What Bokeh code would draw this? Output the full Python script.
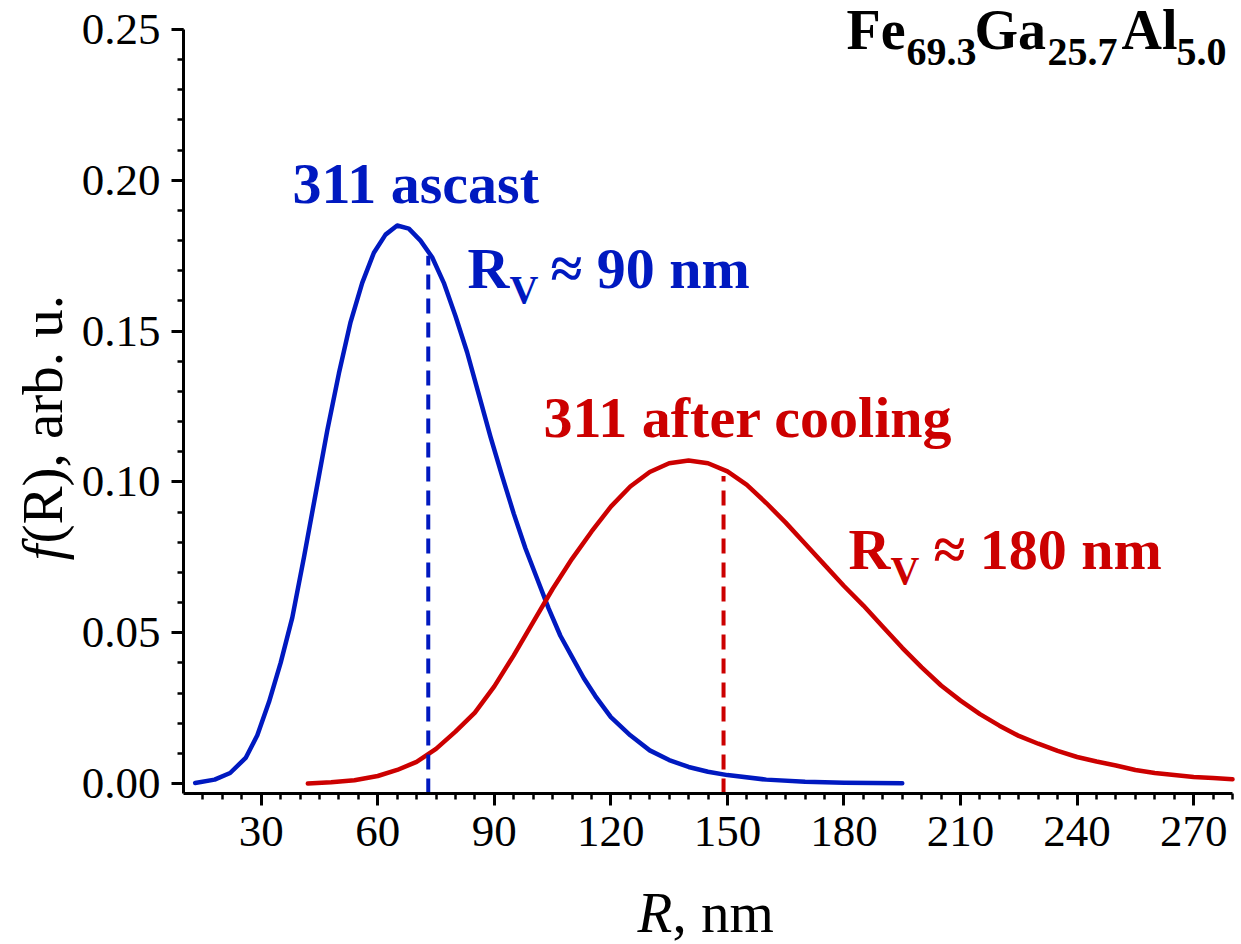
import math
from bokeh.plotting import figure
from bokeh.models import Label, FixedTicker, Range1d, PrintfTickFormatter, LinearAxis
from bokeh.embed import file_html
from bokeh.resources import INLINE

# ---------------- data ----------------
blue_r = [13, 18, 22, 26, 29, 32, 35, 38, 41, 44, 47, 50, 53, 56, 59, 62, 65, 68, 71, 74,
          77, 80, 83, 86, 89, 92, 95, 98, 101, 104, 107, 110, 113, 116, 120, 125, 130, 135,
          140, 145, 150, 160, 170, 180, 195]
blue_f = [0.0002, 0.0013, 0.0035, 0.0085, 0.016, 0.027, 0.040, 0.055, 0.075, 0.096,
          0.117, 0.136, 0.153, 0.166, 0.176, 0.182, 0.185, 0.184, 0.180, 0.1745,
          0.166, 0.155, 0.143, 0.129, 0.115, 0.102, 0.0895, 0.078, 0.068, 0.058,
          0.049, 0.042, 0.035, 0.029, 0.022, 0.016, 0.011, 0.0078, 0.0055, 0.0039,
          0.0028, 0.0013, 0.0006, 0.0003, 0.0001]

red_r = [42, 48, 54, 60, 65, 70, 75, 80, 85, 90, 95, 100, 105, 110, 115, 120, 125, 130,
         135, 140, 145, 150, 155, 160, 165, 170, 175, 180, 185, 190, 195, 200, 205, 210,
         215, 220, 225, 230, 235, 240, 245, 250, 255, 260, 265, 270, 275, 280]
red_f = [0.0, 0.0004, 0.0011, 0.0025, 0.0045, 0.0072, 0.0115, 0.0172, 0.0235, 0.0322,
         0.0425, 0.0535, 0.0645, 0.0745, 0.0835, 0.0918, 0.0985, 0.1033, 0.1062, 0.1071,
         0.1062, 0.1035, 0.099, 0.093, 0.0865, 0.0795, 0.0725, 0.0655, 0.059, 0.052,
         0.045, 0.0385, 0.0325, 0.0275, 0.023, 0.0192, 0.0158, 0.0132, 0.0108, 0.0088,
         0.0073, 0.0060, 0.0045, 0.0035, 0.0028, 0.0022, 0.0018, 0.0014]

# volume-weighted radius markers (dashed lines)
rv_blue_x = 73
rv_blue_top = 0.175
rv_red_x = 149
rv_red_top = 0.102

x_ticks = [30, 60, 90, 120, 150, 180, 210, 240, 270]
x_tick_labels = ["30", "60", "90", "120", "150", "180", "210", "240", "270"]
y_ticks = [0.0, 0.05, 0.10, 0.15, 0.20, 0.25]
y_tick_labels = ["0.00", "0.05", "0.10", "0.15", "0.20", "0.25"]

BLUE = "#0019C0"
RED = "#CC0000"
FONT = "Liberation Serif"

# axis extents
AX_X0, AX_X1 = 10, 280
AX_Y0, AX_Y1 = -0.0033, 0.25

# the plotting frame covers the whole canvas; axes sit at fixed locations inside it
W, H = 1241, 944
FL, FR, FT, FB = 183, 1232, 29, 793          # pixel box of the drawn axes
KX = (FR - FL) / (AX_X1 - AX_X0)
KY = (FB - FT) / (AX_Y1 - AX_Y0)
X0 = AX_X0 - FL / KX
X1 = AX_X0 + (W - FL) / KX
Y1 = AX_Y1 + FT / KY
Y0 = AX_Y0 - (H - FB) / KY

p = figure(width=W, height=H, output_backend="svg", toolbar_location=None,
           x_range=Range1d(X0, X1), y_range=Range1d(Y0, Y1),
           x_axis_type=None, y_axis_type=None,
           min_border_left=0, min_border_right=0, min_border_top=0, min_border_bottom=0)
p.outline_line_color = None
p.grid.visible = False
p.background_fill_color = "white"
p.border_fill_color = "white"

xaxis = LinearAxis(fixed_location=AX_Y0, bounds=(AX_X0, AX_X1))
yaxis = LinearAxis(fixed_location=AX_X0, bounds=(AX_Y0, AX_Y1))
xaxis.ticker = FixedTicker(ticks=x_ticks, minor_ticks=[v for v in range(15, 281, 5)])
xaxis.major_label_overrides = {t: s for t, s in zip(x_ticks, x_tick_labels)}
yaxis.ticker = FixedTicker(ticks=y_ticks, minor_ticks=[i / 100 for i in range(0, 26)])
yaxis.formatter = PrintfTickFormatter(format="%.2f")
yaxis.major_label_overrides = {t: s for t, s in zip(y_ticks, y_tick_labels)}
for ax in (xaxis, yaxis):
    ax.axis_line_width = 3
    ax.axis_line_color = "black"
    ax.major_tick_line_width = 3
    ax.minor_tick_line_width = 2.5
    ax.major_tick_out = 12
    ax.major_tick_in = 0
    ax.minor_tick_out = 6
    ax.minor_tick_in = 0
    ax.major_label_text_font = FONT
    ax.major_label_text_font_size = "45px"
    ax.major_label_text_color = "black"
    ax.major_label_standoff = 11
p.add_layout(xaxis, "below")
p.add_layout(yaxis, "left")

# curves
p.line(blue_r, blue_f, line_color=BLUE, line_width=4.5, line_cap="round", line_join="round")
p.line(red_r, red_f, line_color=RED, line_width=4.5, line_cap="round", line_join="round")
p.segment(x0=[rv_blue_x], y0=[AX_Y0], x1=[rv_blue_x], y1=[rv_blue_top],
          line_color=BLUE, line_width=4, line_dash="15 9")
p.segment(x0=[rv_red_x], y0=[AX_Y0], x1=[rv_red_x], y1=[rv_red_top],
          line_color=RED, line_width=4, line_dash="15 9")


def dx(px):
    return AX_X0 + (px - FL) / KX


def dy(py):
    return AX_Y0 + (FB - py) / KY


def txt(text, px, py, size, color="black", style="bold", angle=0.0):
    # small correction for where the renderer puts the alphabetic baseline
    shift = 0.35 * size
    if angle:
        px = px - shift
    else:
        py = py - shift
    p.add_layout(Label(x=dx(px), y=dy(py), text=text, text_font=FONT,
                       text_font_size=f"{size}px", text_font_style=style,
                       text_color=color, text_baseline="alphabetic", text_align="left",
                       angle=angle))


# composition title
txt("Fe", 846, 49, 56)
txt("69.3", 906, 65, 40)
txt("Ga", 974, 49, 56)
txt("25.7", 1047, 65, 40)
txt("Al", 1121, 49, 56)
txt("5.0", 1176, 65, 40)

# blue annotations
txt("311 ascast", 292, 203, 58, BLUE)
txt("R", 467, 288, 58, BLUE)
txt("V", 509, 303, 40, BLUE)
txt("\u2248 90 nm", 550, 288, 58, BLUE)

# red annotations
txt("311 after cooling", 543, 437, 58, RED)
txt("R", 848, 569, 58, RED)
txt("V", 890, 584, 40, RED)
txt("\u2248 180 nm", 933, 569, 58, RED)

# axis titles
txt("R", 637, 932, 57, "black", "italic")
txt(", nm", 672, 932, 57, "black", "normal")
txt("f", 62, 560, 57, "black", "italic", math.pi / 2)
txt("(R), arb. u.", 62, 543, 57, "black", "normal", math.pi / 2)

open("out.html", "w").write(file_html(p, INLINE))
